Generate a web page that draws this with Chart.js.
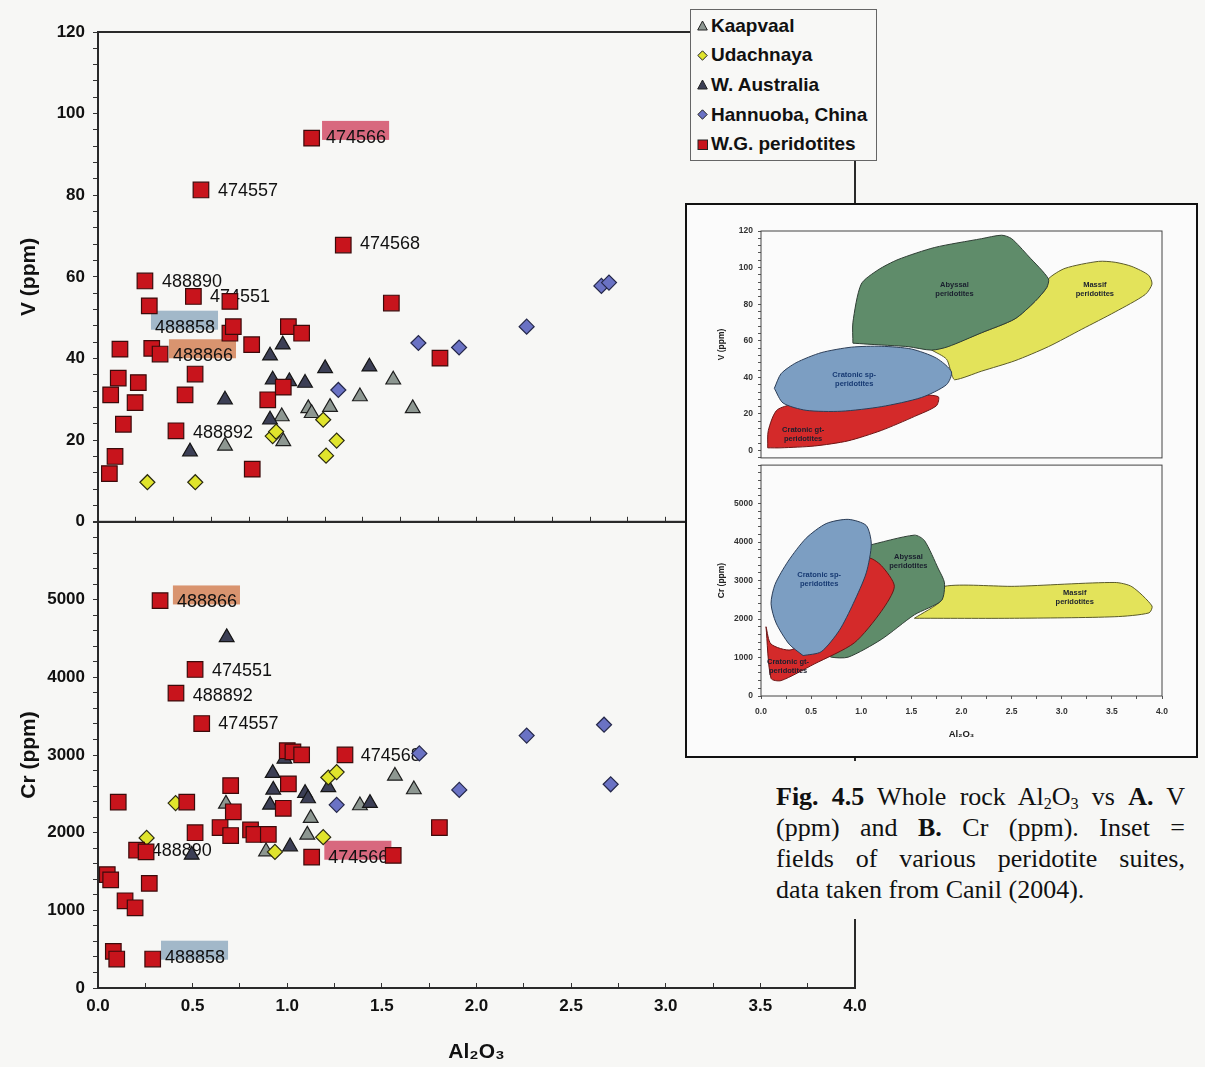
<!DOCTYPE html>
<html>
<head>
<meta charset="utf-8">
<title>Whole rock Al2O3 vs V and Cr</title>
<script src="https://cdn.jsdelivr.net/npm/chart.js@4.4.1/dist/chart.umd.min.js"></script>
<style>
html,body{margin:0;padding:0;}
body{width:1205px;height:1067px;position:relative;overflow:hidden;background:#f7f7f5;font-family:'Liberation Sans',Arial,sans-serif;}
canvas{position:absolute;display:block;}
#legend{position:absolute;left:690px;top:9px;width:187px;height:152px;box-sizing:border-box;border:1px solid #666;background:#f8f8f6;padding-top:1px;}
.lrow{height:29.6px;display:flex;align-items:center;font-weight:bold;font-size:19px;color:#111;white-space:nowrap;}
.lrow svg{margin-left:6px;margin-right:3px;flex:none;}
#inset{position:absolute;left:685px;top:203px;width:513px;height:555px;box-sizing:border-box;border:2px solid #111;background:#fbfbfb;}
#caption{position:absolute;left:770px;top:761px;width:409px;padding:20px 6px 14px 6px;background:#f7f7f5;font-family:'Liberation Serif','Times New Roman',serif;font-size:26px;line-height:31px;color:#111;}
.cl{text-align:justify;text-align-last:justify;}
.cl.last{text-align:left;text-align-last:left;}
.sub{font-size:0.62em;vertical-align:-0.22em;line-height:0;}
</style>
</head>
<body>
<canvas id="cA" width="870" height="540" style="left:0;top:0;width:870px;height:540px"></canvas>
<canvas id="cB" width="880" height="567" style="left:0;top:500px;width:880px;height:567px"></canvas>
<div id="legend"></div>
<div id="inset">
  <canvas id="cC" width="509" height="263" style="left:0;top:0;width:509px;height:263px"></canvas>
  <canvas id="cD" width="509" height="300" style="left:0;top:250px;width:509px;height:300px"></canvas>
</div>
<div id="caption">
  <div class="cl"><b>Fig. 4.5</b> Whole rock Al<span class="sub">2</span>O<span class="sub">3</span> vs <b>A.</b> V</div>
  <div class="cl">(ppm) and <b>B.</b> Cr (ppm). Inset =</div>
  <div class="cl">fields of various peridotite suites,</div>
  <div class="cl last">data taken from Canil (2004).</div>
</div>
<script>
// ---------------- DATA ----------------
const seriesNames = ['Kaapvaal', 'Udachnaya', 'W. Australia', 'Hannuoba, China', 'W.G. peridotites'];

const alTickLabels = [0, 0.5, 1, 1.5, 2, 2.5, 3, 3.5, 4];
const vTickLabels = [0, 20, 40, 60, 80, 100, 120];
const crTickLabels = [0, 1000, 2000, 3000, 4000, 5000];

// Panel A: Al2O3 vs V (ppm)
const kaapvaalV = [[0.671,18.6],[0.971,25.8],[0.979,19.7],[1.111,27.8],[1.129,26.6],[1.226,28.1],[1.384,30.7],[1.56,34.8],[1.663,27.8]];
const udachnayaV = [[0.261,9.7],[0.514,9.7],[0.923,21.0],[0.941,22.1],[1.19,25.0],[1.261,19.9],[1.205,16.2]];
const wAustraliaV = [[0.486,17.2],[0.671,29.9],[0.909,40.7],[0.976,43.4],[0.923,34.8],[1.011,34.4],[1.094,34.0],[0.909,25.0],[1.2,37.6],[1.434,38.0]];
const hannuobaV = [[1.27,32.3],[1.693,43.8],[1.908,42.7],[2.265,47.8],[2.66,57.8],[2.70,58.6]];
const wgV = [[0.06,11.8],[0.09,16.0],[0.067,31.1],[0.107,35.2],[0.116,42.3],[0.134,23.9],[0.196,29.2],[0.213,34.1],[0.248,59.0],[0.271,52.9],[0.284,42.5],[0.328,41.1],[0.412,22.3],[0.46,31.1],[0.504,55.2],[0.513,36.2],[0.544,81.3],[0.697,54.0],[0.697,46.2],[0.715,47.8],[0.812,43.4],[0.815,12.9],[0.897,29.9],[0.979,33.0],[1.006,47.8],[1.076,46.2],[1.129,94.0],[1.296,67.8],[1.55,53.6],[1.807,40.1]];

// Panel B: Al2O3 vs Cr (ppm)
const kaapvaalCr = [[0.676,2371],[0.888,1757],[1.106,1972],[1.124,2187],[1.384,2350],[1.569,2730],[1.669,2556]];
const udachnayaCr = [[0.257,1932],[0.41,2381],[0.935,1752],[1.19,1942],[1.217,2710],[1.261,2780]];
const wAustraliaCr = [[0.68,4515],[0.495,1714],[0.909,2358],[0.923,2767],[0.926,2551],[0.985,2950],[1.015,1821],[1.094,2509],[1.11,2440],[1.217,2583],[1.437,2380]];
const hannuobaCr = [[1.261,2358],[1.698,3020],[1.909,2550],[2.265,3250],[2.674,3390],[2.709,2623]];
const wgCr = [[0.328,4987],[0.513,4101],[0.412,3796],[0.548,3405],[1.305,3001],[1.0,3055],[1.03,3041],[1.076,3001],[1.006,2628],[0.979,2314],[0.701,2606],[0.715,2269],[0.107,2394],[0.469,2394],[0.513,1999],[0.645,2066],[0.701,1963],[0.806,2035],[0.824,1977],[0.9,1977],[1.129,1685],[1.56,1707],[1.804,2066],[0.204,1774],[0.254,1752],[0.049,1460],[0.067,1393],[0.271,1348],[0.143,1123],[0.196,1033],[0.081,472],[0.099,373],[0.289,373]];

// Sample-number annotations (text start, in data units)
const vLabels = [
  {text:'474566', x:1.205, y:94.3},
  {text:'474557', x:0.634, y:81.3},
  {text:'474568', x:1.384, y:68.3},
  {text:'488890', x:0.338, y:59.0},
  {text:'474551', x:0.592, y:55.4},
  {text:'488858', x:0.301, y:47.8},
  {text:'488866', x:0.396, y:40.8},
  {text:'488892', x:0.502, y:22.0}
];
const crLabels = [
  {text:'488866', x:0.417, y:4977},
  {text:'474551', x:0.602, y:4094},
  {text:'488892', x:0.5, y:3767},
  {text:'474557', x:0.636, y:3407},
  {text:'474568', x:1.388, y:2995},
  {text:'488890', x:0.284, y:1771},
  {text:'474566', x:1.217, y:1690},
  {text:'488858', x:0.354, y:403}
];

// Inset: fields of peridotite suites (Canil 2004)
const fieldNames = ['Massif peridotites', 'Abyssal peridotites', 'Cratonic gt-peridotites', 'Cratonic sp-peridotites'];
const massifV = [[1.7,55],[1.9,58],[2.2,64.4],[2.533,72],[2.733,81.5],[2.85,89.1],[2.87,94],[3.033,99.6],[3.367,103.4],[3.533,102.9],[3.7,100.6],[3.867,95.8],[3.9,91],[3.833,85.3],[3.533,75.8],[3.2,66.3],[2.867,56.8],[2.533,49.1],[2.2,43.4],[1.933,38.7],[1.9,42],[1.85,50],[1.7,55]];
const abyssalV = [[0.917,58.7],[0.917,70.1],[1.0,91.0],[1.167,98.7],[1.367,104.4],[1.733,111.0],[2.2,115.8],[2.4,117.7],[2.5,115.8],[2.667,106.3],[2.867,93.9],[2.85,89.1],[2.733,81.5],[2.533,72.0],[2.2,64.4],[1.867,56.8],[1.7,54.9],[1.467,56.8],[1.2,57.7],[0.917,58.7]];
const gtV = [[0.067,1.5],[0.073,11],[0.167,22.5],[0.5,27],[1.0,29],[1.5,30.5],[1.767,29.5],[1.75,24.5],[1.533,18.7],[1.2,11],[0.867,5.3],[0.533,2.5],[0.2,1.5],[0.067,1.5]];
const spV = [[0.133,34],[0.2,42],[0.35,48],[0.6,53.5],[0.9,56.5],[1.2,57],[1.5,55.5],[1.75,50.5],[1.9,43],[1.85,36],[1.6,29],[1.2,24],[0.8,21.5],[0.45,22],[0.22,26],[0.133,34]];
const massifCr = [[1.53,2020],[2.53,2020],[3.53,2060],[3.87,2160],[3.9,2340],[3.7,2840],[3.53,2950],[2.53,2850],[1.83,2850],[1.8,2480],[1.53,2020]];
const abyssalCr = [[1.05,3900],[1.53,4180],[1.63,4040],[1.77,3300],[1.83,2940],[1.8,2480],[1.53,2110],[1.2,1470],[0.87,1010],[0.7,1010],[0.67,1100],[1.0,1800],[1.2,2500],[1.1,3400],[1.05,3900]];
const gtCr = [[0.05,1800],[0.1,460],[0.2,400],[0.53,830],[0.93,1380],[1.2,2200],[1.33,2850],[1.2,3390],[1.07,3580],[0.9,3000],[0.6,1700],[0.3,1200],[0.1,1350],[0.05,1800]];
const spCr = [[0.42,1050],[0.28,1350],[0.15,1900],[0.1,2400],[0.14,2900],[0.27,3500],[0.45,4100],[0.65,4480],[0.87,4590],[1.05,4430],[1.1,3950],[1.05,3200],[0.92,2400],[0.78,1700],[0.6,1150],[0.42,1050]];
const fieldTextV = [
  {lines:['Abyssal','peridotites'], x:1.93, y:88},
  {lines:['Massif','peridotites'], x:3.33, y:88},
  {lines:['Cratonic sp-','peridotites'], x:0.93, y:39},
  {lines:['Cratonic gt-','peridotites'], x:0.42, y:9}
];
const fieldTextCr = [
  {lines:['Cratonic sp-','peridotites'], x:0.58, y:3030},
  {lines:['Abyssal','peridotites'], x:1.47, y:3500},
  {lines:['Massif','peridotites'], x:3.13, y:2550},
  {lines:['Cratonic gt-','peridotites'], x:0.27, y:760}
];

// ---------------- STYLE ----------------
const FONT = "'Liberation Sans', Arial, sans-serif";
const seriesStyle = [
  {pointStyle:'triangle', radius:8.5, fill:'#8d9791', stroke:'#1e1e1e', order:4},
  {pointStyle:'rectRot', radius:7.5, fill:'#e0e42c', stroke:'#2a2a10', order:2},
  {pointStyle:'triangle', radius:8.5, fill:'#3c3f55', stroke:'#151515', order:3},
  {pointStyle:'rectRot', radius:7.5, fill:'#6a72c4', stroke:'#25284a', order:1},
  {pointStyle:'rect', radius:11, fill:'#c8141c', stroke:'#3b0b0b', order:0}
];
const highlightColors = {'474566':'#d8687e', '488858':'#a2b8c9', '488866':'#d9946f'};
const fieldStyle = {
  'Massif peridotites': {fill:'#e3e35a', stroke:'#5a5a2a'},
  'Abyssal peridotites': {fill:'#5f8c6a', stroke:'#2e3e34'},
  'Cratonic gt-peridotites': {fill:'#d42a2a', stroke:'#6b1515'},
  'Cratonic sp-peridotites': {fill:'#7c9ec2', stroke:'#2b3d57'}
};

const toXY = arr => arr.map(p => ({x:p[0], y:p[1]}));

function scatterSets(arrs){
  return seriesStyle.map((s, i) => ({
    label: seriesNames[i], data: toXY(arrs[i]),
    pointStyle: s.pointStyle, pointRadius: s.radius, pointHoverRadius: s.radius,
    backgroundColor: s.fill, borderColor: s.stroke, borderWidth: 1.2, order: s.order
  }));
}
function fieldSets(arrs){
  return arrs.map((a, i) => ({
    type:'line', label: fieldNames[i], data: toXY(a), fill:'shape', tension:0.25,
    pointRadius:0, backgroundColor: fieldStyle[fieldNames[i]].fill,
    borderColor: fieldStyle[fieldNames[i]].stroke, borderWidth:1, order: 10 - i
  }));
}

function framePlugin(w, color){
  return {id:'frame', afterDraw(chart){
    const a = chart.chartArea, c = chart.ctx;
    c.save(); c.strokeStyle = color; c.lineWidth = w;
    c.strokeRect(a.left, a.top, a.right - a.left, a.bottom - a.top);
    c.restore();
  }};
}
function idLabelPlugin(items){
  return {id:'idLabels', beforeDatasetsDraw(chart){
    const {ctx, scales:{x, y}} = chart;
    ctx.save();
    ctx.font = '18px ' + FONT; ctx.textBaseline = 'middle'; ctx.textAlign = 'left';
    for (const L of items){
      const px = x.getPixelForValue(L.x), py = y.getPixelForValue(L.y);
      const w = ctx.measureText(L.text).width;
      if (highlightColors[L.text]){ ctx.fillStyle = highlightColors[L.text]; ctx.fillRect(px - 4, py - 16, w + 7, 19); }
      ctx.fillStyle = '#111'; ctx.fillText(L.text, px, py + 1);
    }
    ctx.restore();
  }};
}
function fieldTextPlugin(items){
  return {id:'fieldText', afterDatasetsDraw(chart){
    const {ctx, scales:{x, y}} = chart;
    ctx.save();
    ctx.font = 'bold 7.5px ' + FONT; ctx.textAlign = 'center'; ctx.textBaseline = 'middle';
    for (const f of items){
      const px = x.getPixelForValue(f.x), py = y.getPixelForValue(f.y);
      ctx.fillStyle = f.lines[0].indexOf('sp-') >= 0 ? '#173a73' : '#1a1f2e';
      f.lines.forEach((t, i) => ctx.fillText(t, px, py + (i - (f.lines.length - 1) / 2) * 9));
    }
    ctx.restore();
  }};
}

function panel(id, datasets, padding, xScale, yScale, plugins){
  return new Chart(document.getElementById(id), {
    type:'scatter',
    data:{datasets},
    options:{
      responsive:false, animation:false, events:[],
      layout:{padding},
      plugins:{legend:{display:false}, tooltip:{enabled:false}},
      scales:{x:xScale, y:yScale}
    },
    plugins
  });
}

const bigTick = {family:FONT, size:17, weight:'bold'};
const bigTitle = {family:FONT, size:21, weight:'bold'};
const smallTick = {family:FONT, size:8.5, weight:'bold'};
const smallTitle = {family:FONT, size:8.5, weight:'bold'};

// ---- Panel A (V) ----
panel('cA', scatterSets([kaapvaalV, udachnayaV, wAustraliaV, hannuobaV, wgV]),
  {top:32, right:15, bottom:0, left:0},
  {type:'linear', min:0, max:4, afterFit: s => { s.height = 18; },
   ticks:{stepSize:0.2, display:false},
   grid:{drawOnChartArea:false, tickLength:-5, color:'#333'}, border:{display:false}},
  {type:'linear', min:0, max:120, afterFit: s => { s.width = 98; },
   ticks:{stepSize:4, autoSkip:false, color:'#111', font:bigTick, padding:8,
     callback: v => vTickLabels.includes(v) ? String(v) : ''},
   grid:{drawOnChartArea:false, tickLength:5, color:'#333'}, border:{display:false},
   title:{display:true, text:'V (ppm)', color:'#111', font:bigTitle, padding:{top:17, bottom:0}}},
  [framePlugin(2, '#2a2a2a'), idLabelPlugin(vLabels)]
);

// ---- Panel B (Cr) ----
panel('cB', scatterSets([kaapvaalCr, udachnayaCr, wAustraliaCr, hannuobaCr, wgCr]),
  {top:22, right:25, bottom:0, left:0},
  {type:'linear', min:0, max:4, afterFit: s => { s.height = 79; },
   ticks:{stepSize:0.25, autoSkip:false, maxRotation:0, color:'#111', font:bigTick, padding:13,
     callback: v => alTickLabels.includes(v) ? v.toFixed(1) : ''},
   grid:{drawOnChartArea:false, tickLength:-5, color:'#333'}, border:{display:false},
   title:{display:true, text:'Al₂O₃', color:'#111', font:bigTitle, padding:{top:0, bottom:2}}},
  {type:'linear', min:0, max:6000, afterFit: s => { s.width = 98; },
   ticks:{stepSize:200, autoSkip:false, color:'#111', font:bigTick, padding:8,
     callback: v => crTickLabels.includes(v) ? String(v) : ''},
   grid:{drawOnChartArea:false, tickLength:5, color:'#333'}, border:{display:false},
   title:{display:true, text:'Cr (ppm)', color:'#111', font:bigTitle, padding:{top:17, bottom:0}}},
  [framePlugin(2, '#2a2a2a'), idLabelPlugin(crLabels)]
);

// ---- Inset top (V) ----
panel('cC', fieldSets([massifV, abyssalV, gtV, spV]),
  {top:26, right:34, bottom:5, left:0},
  {type:'linear', min:0, max:4, display:false},
  {type:'linear', min:-4, max:120, afterFit: s => { s.width = 74; },
   ticks:{stepSize:4, autoSkip:false, color:'#333', font:smallTick, padding:5,
     callback: v => vTickLabels.includes(v) ? String(v) : ''},
   grid:{drawOnChartArea:false, tickLength:3, color:'#555'}, border:{display:false},
   title:{display:true, text:'V (ppm)', color:'#222', font:smallTitle, padding:{top:30, bottom:0}}},
  [framePlugin(1, '#444'), fieldTextPlugin(fieldTextV)]
);

// ---- Inset bottom (Cr) ----
panel('cD', fieldSets([massifCr, abyssalCr, gtCr, spCr]),
  {top:8, right:34, bottom:0, left:0},
  {type:'linear', min:0, max:4, afterFit: s => { s.height = 59; },
   ticks:{stepSize:0.25, autoSkip:false, maxRotation:0, color:'#333', font:smallTick, padding:8,
     callback: v => alTickLabels.includes(v) ? v.toFixed(1) : ''},
   grid:{drawOnChartArea:false, tickLength:3, color:'#555'}, border:{display:false},
   title:{display:true, text:'Al₂O₃', color:'#222', font:{family:FONT, size:9.5, weight:'bold'}, padding:{top:0, bottom:15}}},
  {type:'linear', min:0, max:6000, afterFit: s => { s.width = 74; },
   ticks:{stepSize:200, autoSkip:false, color:'#333', font:smallTick, padding:5,
     callback: v => crTickLabels.includes(v) ? String(v) : ''},
   grid:{drawOnChartArea:false, tickLength:3, color:'#555'}, border:{display:false},
   title:{display:true, text:'Cr (ppm)', color:'#222', font:smallTitle, padding:{top:30, bottom:0}}},
  [framePlugin(1, '#444'), fieldTextPlugin(fieldTextCr)]
);

// ---- Legend ----
function markerSVG(s){
  const a = 'fill="' + s.fill + '" stroke="#222" stroke-width="1"';
  let shape;
  if (s.pointStyle === 'triangle') shape = '<polygon points="5.5,1 10.3,10 0.7,10" ' + a + '/>';
  else if (s.pointStyle === 'rectRot') shape = '<polygon points="5.5,0.8 10.2,5.5 5.5,10.2 0.8,5.5" ' + a + '/>';
  else shape = '<rect x="1" y="1" width="9.5" height="9.5" ' + a + '/>';
  return '<svg width="11" height="11" viewBox="0 0 11 11">' + shape + '</svg>';
}
const legendEl = document.getElementById('legend');
seriesNames.forEach((name, i) => {
  const row = document.createElement('div');
  row.className = 'lrow';
  row.innerHTML = markerSVG(seriesStyle[i]) + '<span>' + name + '</span>';
  legendEl.appendChild(row);
});
</script>
</body>
</html>
